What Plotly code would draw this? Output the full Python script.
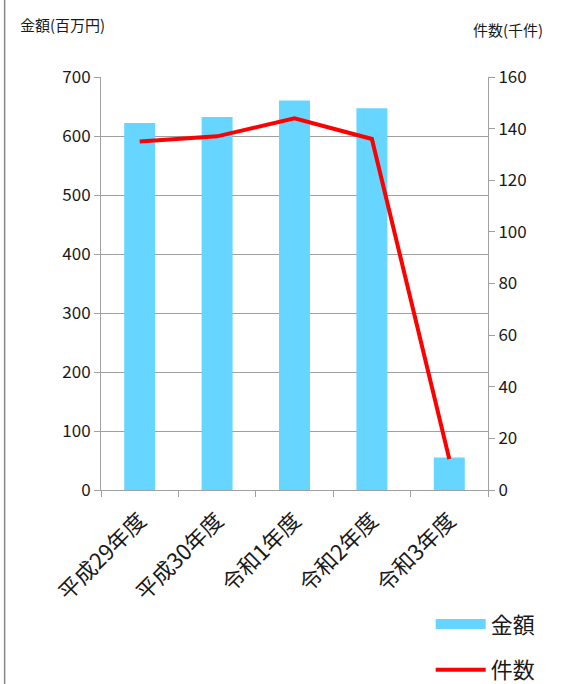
import plotly.graph_objects as go

categories = ["平成29年度", "平成30年度", "令和1年度", "令和2年度", "令和3年度"]
amount = [622, 632, 660, 647, 55]        # 金額 (百万円)
count = [135, 137, 144, 136, 12]         # 件数 (千件)

JP = "Noto Sans CJK JP"
GRID = "#A0A0A0"
TXT = "#1a1a1a"

fig = go.Figure()
fig.add_trace(go.Bar(
    x=categories, y=amount, name="金額",
    marker=dict(color="#66D5FF", line=dict(width=0)),
    width=0.4, showlegend=False,
))
# legend entry for the bars drawn as a wide swatch (Excel style)
fig.add_trace(go.Scatter(
    x=[None], y=[None], name="金額", mode="lines",
    line=dict(color="#66D5FF", width=12), legendgroup="a",
))
fig.add_trace(go.Scatter(
    x=categories, y=count, name="件数", yaxis="y2",
    mode="lines", line=dict(color="#FF0000", width=4),
    legendgroup="b",
))

fig.update_layout(
    template="none",
    width=563, height=684,
    margin=dict(l=101, r=75, t=77, b=194, autoexpand=False),
    paper_bgcolor="white", plot_bgcolor="white",
    font=dict(family=JP, size=17, color=TXT),
    showlegend=True,
    legend=dict(
        xref="container", yref="container",
        x=0.765, y=0.118, xanchor="left", yanchor="top",
        orientation="v", font=dict(size=22, family=JP, color=TXT),
        tracegroupgap=14, itemwidth=50, bgcolor="rgba(0,0,0,0)",
    ),
    xaxis=dict(
        type="category", tickangle=-45, tickson="boundaries",
        ticks="outside", ticklen=6, tickcolor=GRID, ticklabelstandoff=8,
        showline=True, linecolor=GRID, linewidth=1, automargin=False,
        showgrid=False, tickfont=dict(size=22, family=JP, color=TXT),
    ),
    yaxis=dict(
        range=[0, 700], dtick=100, showgrid=True, gridcolor=GRID, gridwidth=1,
        ticks="outside", ticklen=6, tickcolor=GRID, automargin=False,
        showline=True, linecolor=GRID, linewidth=1, zeroline=False,
        tickfont=dict(size=17, family=JP, color=TXT),
    ),
    yaxis2=dict(
        range=[0, 160], dtick=20, overlaying="y", side="right",
        showgrid=False, ticks="outside", ticklen=6, tickcolor=GRID, automargin=False,
        showline=True, linecolor=GRID, linewidth=1, zeroline=False,
        tickfont=dict(size=17, family=JP, color=TXT),
    ),
    annotations=[
        dict(text="金額(百万円)", xref="paper", yref="paper", x=-0.215, y=1.126,
             xanchor="left", yanchor="middle", showarrow=False,
             font=dict(size=15, family=JP, color=TXT)),
        dict(text="件数(千件)", xref="paper", yref="paper", x=0.955, y=1.114,
             xanchor="left", yanchor="middle", showarrow=False,
             font=dict(size=15, family=JP, color=TXT)),
    ],
    shapes=[
        dict(type="line", xref="paper", yref="paper", x0=-0.249, x1=-0.249,
             y0=-0.47, y1=1.19, line=dict(color="#888888", width=1.5)),
    ],
)

fig.write_html("out.html", config={"displayModeBar": False},
               post_script="document.body.style.margin='0';document.body.style.padding='0';")
